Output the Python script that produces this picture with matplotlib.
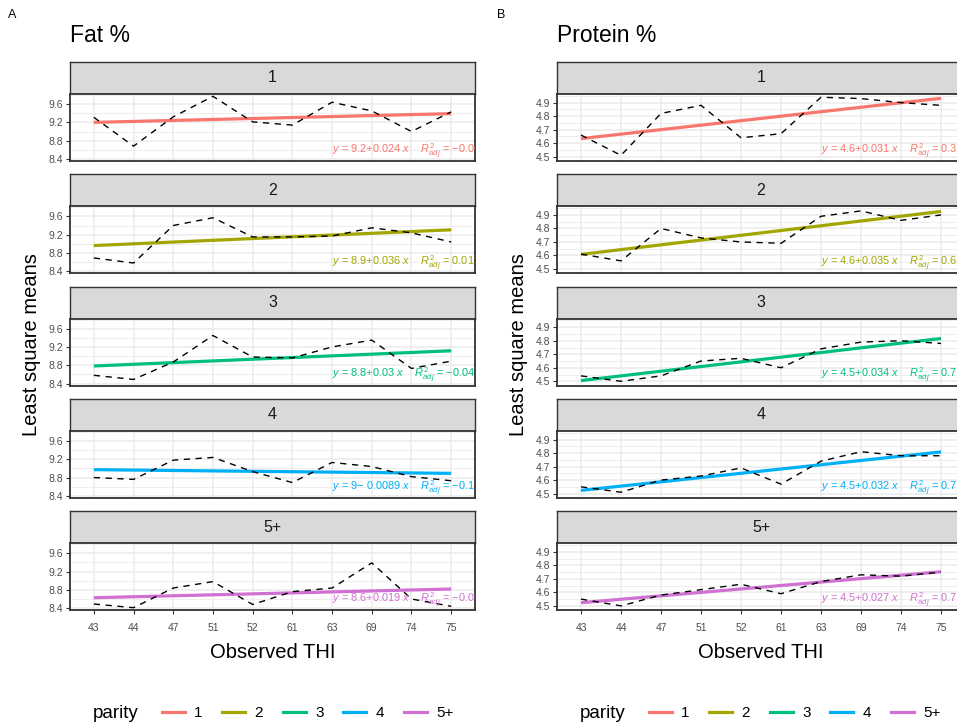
import matplotlib
matplotlib.use("Agg")
import matplotlib.pyplot as plt
from matplotlib.lines import Line2D
import numpy as np

plt.rcParams["font.family"] = ["Liberation Sans", "DejaVu Sans"]
plt.rcParams["mathtext.fontset"] = "custom"
plt.rcParams["mathtext.rm"] = "Liberation Sans"
plt.rcParams["mathtext.it"] = "Liberation Sans:italic"

# x categories (observed THI) and facet levels
thi_labels = ["43", "44", "47", "51", "52", "61", "63", "69", "74", "75"]
parity_levels = ["1", "2", "3", "4", "5+"]
parity_colors = ["#F8766D", "#A3A500", "#00BF7D", "#00B0F6", "#D070D2"]

# least square means, fat %
fat_1 = [9.31, 8.68, 9.32, 9.77, 9.21, 9.14, 9.64, 9.45, 9.00, 9.43]
fat_2 = [8.69, 8.58, 9.40, 9.57, 9.15, 9.15, 9.17, 9.35, 9.24, 9.04]
fat_3 = [8.58, 8.49, 8.87, 9.45, 8.98, 8.96, 9.20, 9.35, 8.73, 8.89]
fat_4 = [8.80, 8.76, 9.18, 9.24, 8.93, 8.69, 9.13, 9.04, 8.82, 8.73]
fat_5 = [8.49, 8.41, 8.84, 8.98, 8.48, 8.76, 8.84, 9.39, 8.60, 8.44]

# least square means, protein %
protein_1 = [4.66, 4.51, 4.82, 4.88, 4.64, 4.67, 4.94, 4.93, 4.90, 4.88]
protein_2 = [4.61, 4.56, 4.80, 4.73, 4.70, 4.69, 4.89, 4.93, 4.86, 4.90]
protein_3 = [4.54, 4.50, 4.54, 4.65, 4.67, 4.60, 4.74, 4.79, 4.80, 4.78]
protein_4 = [4.55, 4.51, 4.60, 4.63, 4.69, 4.57, 4.74, 4.81, 4.78, 4.78]
protein_5 = [4.55, 4.50, 4.58, 4.62, 4.66, 4.59, 4.68, 4.73, 4.72, 4.75]

# regression labels printed in each facet
fat_eq = ["9.2+0.024", "8.9+0.036", "8.8+0.03", "9\u2212 0.0089", "8.6+0.019"]
fat_r2 = ["\u22120.064", "0.012", "\u22120.041", "\u22120.11", "\u22120.068"]
protein_eq = ["4.6+0.031", "4.6+0.035", "4.5+0.034", "4.5+0.032", "4.5+0.027"]
protein_r2 = ["0.38", "0.62", "0.79", "0.71", "0.76"]

fat_means = [fat_1, fat_2, fat_3, fat_4, fat_5]
protein_means = [protein_1, protein_2, protein_3, protein_4, protein_5]

W, H = 957, 725
fig = plt.figure(figsize=(W / 100, H / 100), dpi=100)


def fig_rect(x0, x1, top, bottom):
    return [x0 / W, 1 - bottom / H, (x1 - x0) / W, (bottom - top) / H]


def draw_column(x0, x1, means, ylim, yticks, yminor, eqs, r2s, title, letter, letter_x):
    x = np.arange(1, len(thi_labels) + 1)
    for i, values in enumerate(means):
        strip_top = 62 + i * 112.3
        sax = fig.add_axes(fig_rect(x0, x1, strip_top, strip_top + 32))
        sax.set_facecolor("#D9D9D9")
        sax.set_xticks([])
        sax.set_yticks([])
        for sp in sax.spines.values():
            sp.set_color("#333333")
            sp.set_linewidth(1.0)
        sax.text(0.5, 0.5, parity_levels[i], transform=sax.transAxes,
                 ha="center", va="center", fontsize=11.5, color="#1A1A1A")

        ax = fig.add_axes(fig_rect(x0, x1, strip_top + 32, strip_top + 99))
        ax.set_xlim(0.4, len(thi_labels) + 0.6)
        ax.set_ylim(*ylim)
        ax.set_xticks(x)
        ax.set_yticks(yticks)
        ax.set_yticks(yminor, minor=True)
        ax.grid(which="major", color="#EBEBEB", linewidth=1.1)
        ax.grid(which="minor", axis="y", color="#EBEBEB", linewidth=0.6)
        ax.set_axisbelow(True)
        for sp in ax.spines.values():
            sp.set_color("#333333")
            sp.set_linewidth(1.3)
        ax.tick_params(axis="y", which="major", length=3, width=0.8, color="#333333",
                       labelsize=7.5, labelcolor="#4D4D4D", pad=2)
        ax.tick_params(axis="y", which="minor", length=0)
        if i == len(means) - 1:
            ax.set_xticklabels(thi_labels)
            ax.tick_params(axis="x", length=3, width=0.8, color="#333333",
                           labelsize=7.5, labelcolor="#4D4D4D", pad=6)
        else:
            ax.tick_params(axis="x", length=0, labelbottom=False)

        slope, intercept = np.polyfit(x, values, 1)
        ax.plot(x, intercept + slope * x, color=parity_colors[i], lw=2.3, zorder=3,
                solid_capstyle="butt")
        ax.plot(x, values, color="black", lw=1.0, ls=(0, (4.5, 4)), zorder=4)

        label = f"$y$ = {eqs[i]} $x$    $R^2_{{adj}}$ = {r2s[i]}"
        ax.text(7.0, 0.15, label, transform=ax.get_xaxis_transform(),
                ha="left", va="center", fontsize=7.9, color=parity_colors[i],
                clip_on=True, zorder=5)

    fig.text(x0 / W, 1 - 35 / H, title, fontsize=16.5, ha="left", va="center")
    fig.text(letter_x / W, 1 - 15 / H, letter, fontsize=9, ha="left", va="center")
    fig.text((x0 + x1) / 2 / W, 1 - 652 / H, "Observed THI", fontsize=14.5,
             ha="center", va="center")
    fig.text((x0 - 38) / W, 1 - 345 / H, "Least square means", fontsize=14.5,
             rotation=90, ha="center", va="center")

    handles = [Line2D([], [], color=c, lw=2.3) for c in parity_colors]
    fig.text((x0 + 23) / W, 1 - 713 / H, "parity", fontsize=13.5, ha="left", va="center")
    fig.legend(handles, parity_levels, ncol=5, loc="center left",
               bbox_to_anchor=((x0 + 92) / W, 1 - 713 / H), frameon=False,
               fontsize=11, handlelength=1.5, handletextpad=0.6, columnspacing=1.3,
               borderpad=0, borderaxespad=0)


draw_column(70, 475, fat_means, (8.355, 9.82), [8.4, 8.8, 9.2, 9.6],
            [8.6, 9.0, 9.4, 9.8], fat_eq, fat_r2, "Fat %", "A", 8)
draw_column(557, 965, protein_means, (4.468, 4.964), [4.5, 4.6, 4.7, 4.8, 4.9],
            [4.55, 4.65, 4.75, 4.85, 4.95], protein_eq, protein_r2, "Protein %", "B", 497)

fig.savefig("out.png", dpi=100)
